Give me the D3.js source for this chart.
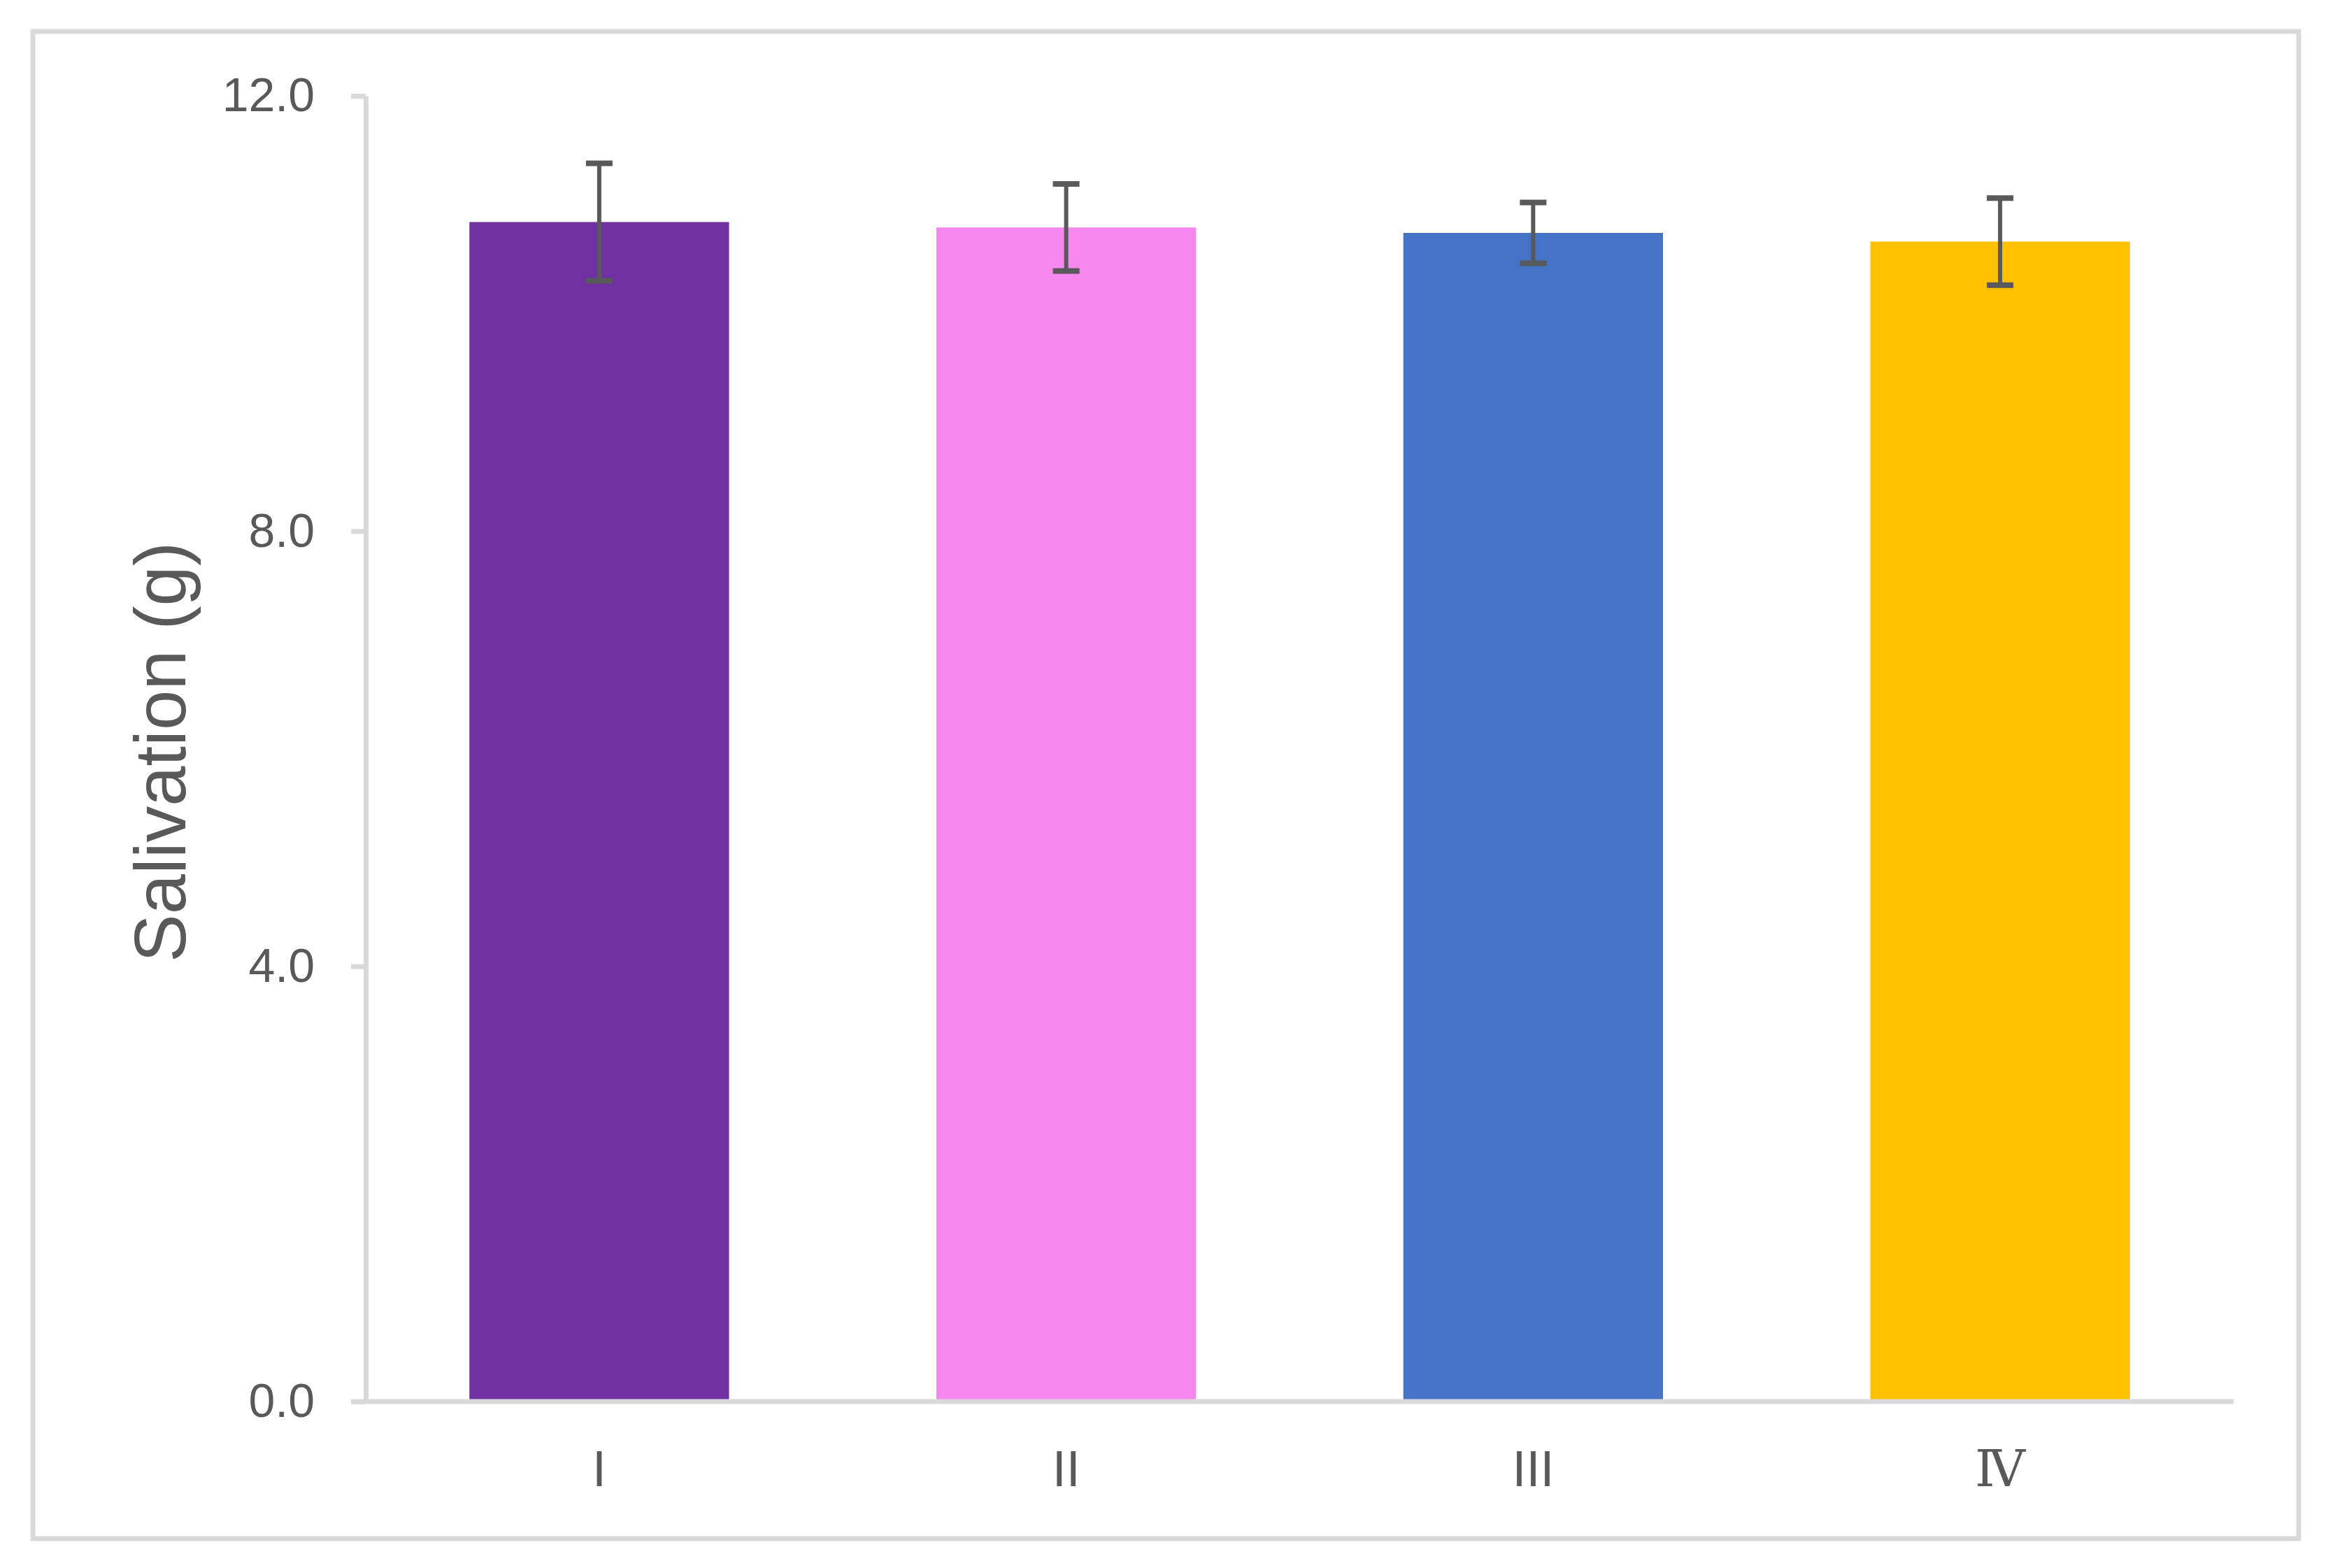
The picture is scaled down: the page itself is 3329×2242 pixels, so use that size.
<!DOCTYPE html>
<html>
<head>
<meta charset="utf-8">
<script src="https://cdn.jsdelivr.net/npm/d3@7"></script>
<style>
  html, body { margin: 0; padding: 0; background: #ffffff; }
  svg { display: block; }
</style>
</head>
<body>
<svg id="chart" width="3329" height="2242"></svg>
<script>
// ---- data ----
const categories = ["I", "II", "III", "Ⅳ"];
const means      = [10.84, 10.79, 10.74, 10.66];
const errors     = [0.54, 0.40, 0.28, 0.40];
const barColors  = ["#7030A0", "#F587EE", "#4472C4", "#FFC000"];
const yTicks     = [0, 4, 8, 12];
const yLabel     = "Salivation (g)";

// ---- layout ----
const W = 3329, H = 2242;
const plot = { left: 523, right: 3194, top: 137, bottom: 2004 };
const tickLen = 21;
const axisColor = "#d9d9d9";
const textColor = "#595959";
const font = "'Liberation Sans', Arial, sans-serif";

const svg = d3.select("#chart");

// frame
svg.append("rect")
  .attr("x", 47).attr("y", 45)
  .attr("width", 3287 - 47).attr("height", 2200 - 45)
  .attr("fill", "#ffffff")
  .attr("stroke", axisColor).attr("stroke-width", 7);

const x = d3.scaleBand()
  .domain(categories)
  .range([plot.left, plot.right])
  .paddingInner(0.444)
  .paddingOuter(0.222);

const y = d3.scaleLinear()
  .domain([0, 12])
  .range([plot.bottom, plot.top]);

const data = categories.map((c, i) => ({ c, v: means[i], e: errors[i], col: barColors[i] }));

// bars
svg.append("g").selectAll("rect").data(data).enter().append("rect")
  .attr("x", d => x(d.c))
  .attr("y", d => y(d.v))
  .attr("width", x.bandwidth())
  .attr("height", d => y(0) - y(d.v))
  .attr("fill", d => d.col);

// y axis
const yAxis = d3.axisLeft(y)
  .tickValues(yTicks)
  .tickSize(tickLen)
  .tickSizeOuter(0)
  .tickPadding(52)
  .tickFormat(d3.format(".1f"));

const gy = svg.append("g")
  .attr("transform", `translate(${plot.left},0)`)
  .call(yAxis);
gy.select(".domain").attr("stroke", axisColor).attr("stroke-width", 7);
gy.selectAll(".tick line").attr("stroke", axisColor).attr("stroke-width", 7);
gy.selectAll(".tick text")
  .attr("fill", textColor)
  .style("font-family", font)
  .style("font-size", "68px");

// x axis
const xAxis = d3.axisBottom(x).tickSize(0).tickSizeOuter(0).tickPadding(70);
const gx = svg.append("g")
  .attr("transform", `translate(0,${plot.bottom})`)
  .call(xAxis);
gx.select(".domain").remove();
gx.append("line")
  .attr("x1", plot.left - tickLen).attr("x2", plot.right)
  .attr("y1", 0).attr("y2", 0)
  .attr("stroke", axisColor).attr("stroke-width", 7);
gx.selectAll(".tick text")
  .attr("fill", textColor)
  .style("font-family", d => d === "Ⅳ" ? "'DejaVu Serif', 'Liberation Serif', serif" : font)
  .style("font-size", "72px");

// error bars
const capHalf = 19;
const eb = svg.append("g").attr("stroke", "#595959").attr("stroke-width", 6);
data.forEach(d => {
  const cx = x(d.c) + x.bandwidth() / 2;
  eb.append("line").attr("x1", cx).attr("x2", cx)
    .attr("y1", y(d.v + d.e)).attr("y2", y(d.v - d.e));
  eb.append("line").attr("x1", cx - capHalf).attr("x2", cx + capHalf)
    .attr("y1", y(d.v + d.e)).attr("y2", y(d.v + d.e)).attr("stroke-width", 8);
  eb.append("line").attr("x1", cx - capHalf).attr("x2", cx + capHalf)
    .attr("y1", y(d.v - d.e)).attr("y2", y(d.v - d.e)).attr("stroke-width", 8);
});

// y label
svg.append("text")
  .attr("transform", `translate(265,${(775 + 1376) / 2}) rotate(-90)`)
  .attr("text-anchor", "middle")
  .attr("fill", textColor)
  .style("font-family", font)
  .style("font-size", "103px")
  .text(yLabel);
</script>
</body>
</html>
